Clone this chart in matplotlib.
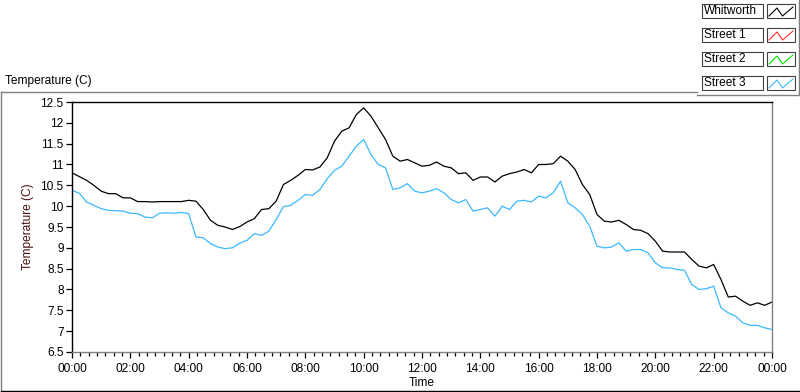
import numpy as np
import matplotlib
matplotlib.use("Agg")
import matplotlib.pyplot as plt
from matplotlib.patches import Rectangle
from matplotlib.lines import Line2D
from matplotlib.ticker import FixedLocator, FuncFormatter

plt.rcParams["font.family"] = ["Liberation Sans", "DejaVu Sans"]

# sample times, hours after midnight (15 min readings)
hours = np.arange(0, 24.01, 0.25)

whitworth = [10.80, 10.71, 10.62, 10.50, 10.36, 10.30, 10.30, 10.20, 10.20, 10.11, 10.11, 10.10, 10.11, 10.11, 10.11, 10.11, 10.14,
             10.12, 9.92, 9.66, 9.54, 9.50, 9.44, 9.51, 9.62, 9.70, 9.92, 9.94, 10.12, 10.52, 10.62, 10.74, 10.88,
             10.87, 10.94, 11.16, 11.56, 11.80, 11.88, 12.20, 12.36, 12.16, 11.88, 11.60, 11.20, 11.08, 11.12, 11.04, 10.96,
             10.98, 11.06, 10.96, 10.92, 10.78, 10.80, 10.62, 10.70, 10.70, 10.58, 10.72, 10.78, 10.82, 10.88, 10.80, 11.00,
             11.00, 11.02, 11.20, 11.08, 10.88, 10.52, 10.28, 9.80, 9.64, 9.62, 9.66, 9.56, 9.44, 9.42, 9.34, 9.16,
             8.92, 8.90, 8.90, 8.90, 8.72, 8.56, 8.52, 8.60, 8.24, 7.82, 7.84, 7.72, 7.62, 7.68, 7.62, 7.70]

street3 = [10.38, 10.31, 10.10, 10.02, 9.94, 9.90, 9.89, 9.88, 9.83, 9.82, 9.74, 9.72, 9.83, 9.84, 9.83, 9.85, 9.82,
           9.26, 9.24, 9.10, 9.02, 8.98, 9.00, 9.11, 9.18, 9.34, 9.30, 9.40, 9.68, 9.99, 10.02, 10.14, 10.28,
           10.26, 10.40, 10.66, 10.86, 10.96, 11.20, 11.44, 11.60, 11.24, 11.00, 10.92, 10.40, 10.44, 10.54, 10.36, 10.32,
           10.36, 10.42, 10.32, 10.16, 10.08, 10.16, 9.88, 9.92, 9.96, 9.76, 10.00, 9.92, 10.12, 10.14, 10.10, 10.24,
           10.20, 10.32, 10.60, 10.08, 9.96, 9.80, 9.52, 9.04, 9.00, 9.02, 9.12, 8.92, 8.96, 8.96, 8.88, 8.64,
           8.52, 8.52, 8.48, 8.46, 8.12, 8.00, 8.02, 8.08, 7.56, 7.44, 7.36, 7.20, 7.14, 7.14, 7.08, 7.04]

names = ["Whitworth", "Street 1", "Street 2", "Street 3"]
colors = ["#000000", "#ff3030", "#00e000", "#3bb9ff"]

W, H = 800, 392
FS = 8.6


def fx(x):
    return x / W


def fy(y):
    return 1 - y / H


fig = plt.figure(figsize=(8, 3.92), dpi=100)
ax = fig.add_axes([fx(72), fy(352), fx(772) - fx(72), fy(102) - fy(352)])

ax.plot(hours, whitworth, color=colors[0], lw=0.9)
ax.plot(hours, street3, color=colors[3], lw=0.9)

ax.set_xlim(0, 24)
ax.set_ylim(6.5, 12.5)
ax.set_yticks(np.arange(6.5, 12.51, 0.5))
ax.yaxis.set_major_formatter(FuncFormatter(lambda v, p: f"{v:g}"))
ax.set_xticks(np.arange(0, 24.01, 2))
ax.xaxis.set_major_formatter(FuncFormatter(lambda v, p: f"{int(round(v)) % 24:02d}:00"))
ax.xaxis.set_minor_locator(FixedLocator(np.arange(0, 24.01, 2 / 7)))
ax.tick_params(axis="both", direction="out", length=4, width=0.9, labelsize=FS, pad=2)
ax.tick_params(axis="x", pad=4)
ax.tick_params(axis="x", which="minor", direction="out", length=3, width=0.9)
for side in ["left", "top"]:
    ax.spines[side].set_color("black")
for side in ["right", "bottom"]:
    ax.spines[side].set_color("#808080")
for s in ax.spines.values():
    s.set_linewidth(1.0)

ax.set_xlabel("Time", fontsize=FS, labelpad=1)
ax.set_ylabel("Temperature (C)", fontsize=FS, color="#4a0c0c", labelpad=5)

# outer frame like the instrument panel
fig.add_artist(Line2D([fx(0.5), fx(697)], [fy(92), fy(92)], color="#808080", lw=1.0))
fig.add_artist(Line2D([fx(0.5), fx(0.5)], [fy(92), fy(390.5)], color="#808080", lw=1.0))
fig.add_artist(Line2D([fx(0.5), fx(799)], [fy(390.5), fy(390.5)], color="black", lw=1.0))
fig.add_artist(Line2D([fx(697), fx(798.5)], [fy(95), fy(95)], color="#808080", lw=1.0))
fig.add_artist(Line2D([fx(798.5), fx(798.5)], [fy(0), fy(95)], color="#808080", lw=1.0))
fig.text(fx(5), fy(81), "Temperature (C)", fontsize=FS, va="center", ha="left")

# legend panel
for i, (name, col) in enumerate(zip(names, colors)):
    top = 4 + 24 * i
    fig.add_artist(Rectangle((fx(702), fy(top + 14)), fx(61), 14 / H,
                             facecolor="white", edgecolor="#404040", lw=0.8))
    fig.text(fx(704), fy(top + 7.5), name, fontsize=FS, va="center", ha="left")
    fig.add_artist(Rectangle((fx(767), fy(top + 14)), fx(28), 14 / H,
                             facecolor="white", edgecolor="#404040", lw=0.8))
    zx = [769, 777, 782.5, 793]
    zy = [top + 12, top + 4, top + 12, top + 3]
    fig.add_artist(Line2D([fx(v) for v in zx], [fy(v) for v in zy], color=col, lw=0.8))

fig.savefig("out.png", dpi=100)
